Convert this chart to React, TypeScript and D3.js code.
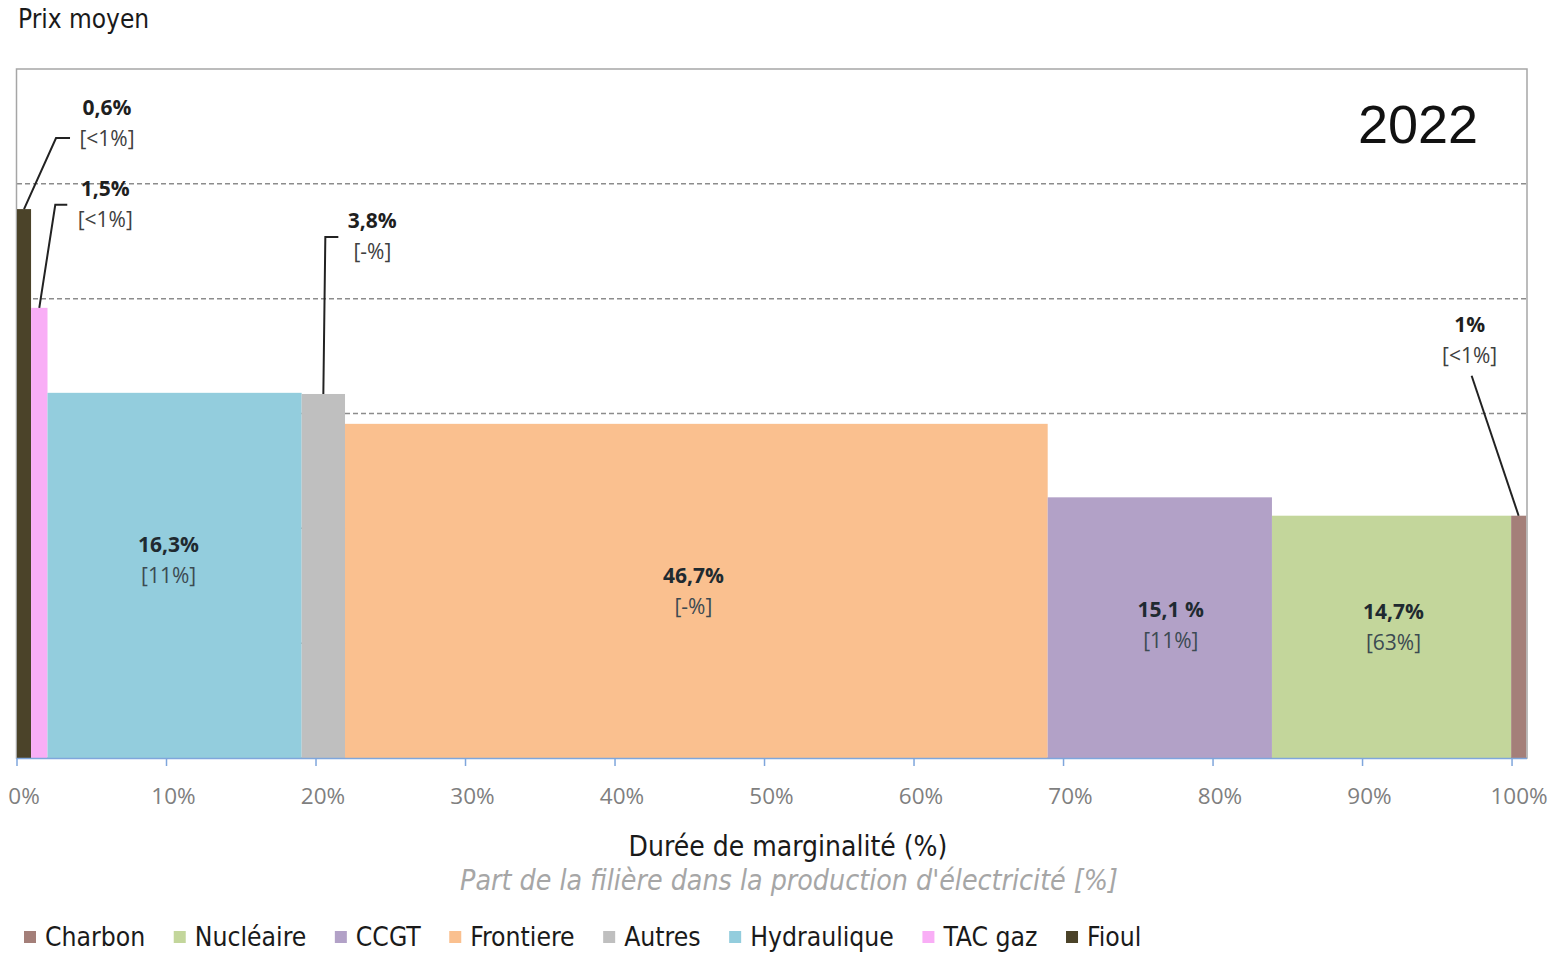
import React, { useEffect, useRef } from "react";
import * as d3 from "d3";

// ---------- data ----------
const categories = ["Fioul", "TAC gaz", "Hydraulique", "Autres", "Frontiere", "CCGT", "Nucléaire", "Charbon"];
// bar widths (share of time, % on x axis) as drawn
const durations = [0.94, 1.1, 17.0, 2.9, 47.0, 15.0, 16.0, 1.0];
// bar heights (average price, €/MWh)
const prices = [478, 392, 318, 317, 291, 227, 211, 211];
const durationLabels = ["0,6%", "1,5%", "16,3%", "3,8%", "46,7%", "15,1 %", "14,7%", "1%"];
const shareLabels = ["[<1%]", "[<1%]", "[11%]", "[-%]", "[-%]", "[11%]", "[63%]", "[<1%]"];
const colors = ["#4b4329", "#f9aef6", "#93cddd", "#bfbfbf", "#fac08f", "#b2a1c7", "#c3d69b", "#a47f79"];
const legendOrder = ["Charbon", "Nucléaire", "CCGT", "Frontiere", "Autres", "Hydraulique", "TAC gaz", "Fioul"];
const xTicks = [0, 10, 20, 30, 40, 50, 60, 70, 80, 90, 100];
const yGrid = [100, 200, 300, 400, 500];
const yearLabel = "2022";
const yTitle = "Prix moyen";
const xTitle = "Durée de marginalité (%)";
const xSubtitle = "Part de la filière dans la production d'électricité [%]";

// callouts for narrow bars: which bars get an outside label, and the leader path (pixel offsets from bar top)
const outsideLabels = ["Fioul", "TAC gaz", "Autres", "Charbon"];
const calloutLayout: Record<string, { path: [number, number][]; tx: number; ty: number }> = {
  Fioul: { path: [[0, 0], [32, -71], [46, -71]], tx: 83, ty: -94 },
  "TAC gaz": { path: [[0, 0], [16, -103], [28, -103]], tx: 66, ty: -112 },
  Autres: { path: [[0, 0], [2, -157], [15, -157]], tx: 49, ty: -166 },
  Charbon: { path: [[0, 0], [-47, -140]], tx: -49, ty: -184 },
};
// fine offsets of inside labels relative to bar centre (pixels)
const insideOffset: Record<string, [number, number]> = {
  Hydraulique: [-6, -15],
  Frontiere: [-3, 0],
  CCGT: [11, -3],
  Nucléaire: [2, -10],
};

const W = 1555;
const H = 953;
const M = { left: 17, right: 1527, top: 69, bottom: 758 };
const FONT = "'Open Sans', 'DejaVu Sans', sans-serif";
const NARROW = "'Liberation Sans Narrow', 'DejaVu Sans Condensed', 'Roboto', sans-serif";

export default function App() {
  const ref = useRef<SVGSVGElement | null>(null);

  useEffect(() => {
    const svg = d3.select(ref.current);
    svg.selectAll("*").remove();

    const x = d3.scaleLinear().domain([0, 101]).range([M.left, M.right]);
    const y = d3.scaleLinear().domain([0, 600]).range([M.bottom, M.top]);

    const starts: number[] = [];
    let acc = 0;
    durations.forEach((d) => {
      starts.push(acc);
      acc += d;
    });
    const bars = categories.map((c, i) => ({
      name: c,
      x0: starts[i],
      x1: starts[i] + durations[i],
      price: prices[i],
      color: colors[i],
      dl: durationLabels[i],
      sl: shareLabels[i],
    }));

    svg.append("rect").attr("width", W).attr("height", H).attr("fill", "#fff");

    // gridlines
    svg
      .append("g")
      .selectAll("line")
      .data(yGrid)
      .join("line")
      .attr("x1", M.left)
      .attr("x2", M.right)
      .attr("y1", (d) => y(d))
      .attr("y2", (d) => y(d))
      .attr("stroke", "#8c8c8c")
      .attr("stroke-width", 1.5)
      .attr("stroke-dasharray", "5,3");

    // plot border
    svg
      .append("rect")
      .attr("x", M.left - 0.5)
      .attr("y", M.top)
      .attr("width", M.right - M.left + 0.5)
      .attr("height", M.bottom - M.top)
      .attr("fill", "none")
      .attr("stroke", "#a6a6a6")
      .attr("stroke-width", 1.5);

    // bars
    svg
      .append("g")
      .selectAll("rect")
      .data(bars)
      .join("rect")
      .attr("x", (d) => x(d.x0))
      .attr("width", (d) => x(d.x1) - x(d.x0))
      .attr("y", (d) => y(d.price))
      .attr("height", (d) => y(0) - y(d.price))
      .attr("fill", (d) => d.color);

    // x axis
    const ax = svg.append("g");
    ax.append("line")
      .attr("x1", M.left)
      .attr("x2", M.right)
      .attr("y1", M.bottom + 0.5)
      .attr("y2", M.bottom + 0.5)
      .attr("stroke", "#7fa6dc")
      .attr("stroke-width", 1.5);
    ax.selectAll("line.tick")
      .data(xTicks)
      .join("line")
      .attr("class", "tick")
      .attr("x1", (d) => x(d))
      .attr("x2", (d) => x(d))
      .attr("y1", M.bottom)
      .attr("y2", M.bottom + 8)
      .attr("stroke", "#7fa6dc")
      .attr("stroke-width", 1.5);
    ax.selectAll("text")
      .data(xTicks)
      .join("text")
      .attr("x", (d) => x(d) + 7)
      .attr("y", 804)
      .attr("text-anchor", "middle")
      .attr("font-family", FONT)
      .attr("font-size", 22.5)
      .attr("fill", "#7f7f7f")
      .text((d) => `${d}%`);

    // inside labels
    const inside = bars.filter((b) => !outsideLabels.includes(b.name));
    const ig = svg.append("g").attr("font-family", FONT).attr("text-anchor", "middle");
    inside.forEach((b) => {
      const off = insideOffset[b.name] || [0, 0];
      const cx = (x(b.x0) + x(b.x1)) / 2 + off[0];
      const cy = (y(b.price) + y(0)) / 2 + off[1];
      ig.append("text")
        .attr("x", cx)
        .attr("y", cy - 8)
        .attr("font-size", 21)
        .attr("font-weight", "bold")
        .attr("fill", "#1f2a30")
        .text(b.dl);
      ig.append("text")
        .attr("x", cx)
        .attr("y", cy + 23)
        .attr("font-size", 21)
        .attr("fill", "#3c4a52")
        .text(b.sl);
    });

    // outside callouts
    const og = svg.append("g").attr("font-family", FONT).attr("text-anchor", "middle");
    bars
      .filter((b) => outsideLabels.includes(b.name))
      .forEach((b) => {
        const lay = calloutLayout[b.name];
        const bx = (x(b.x0) + x(b.x1)) / 2;
        const by = y(b.price);
        og.append("path")
          .attr("d", d3.line()(lay.path.map(([dx, dy]) => [bx + dx, by + dy] as [number, number])))
          .attr("fill", "none")
          .attr("stroke", "#222")
          .attr("stroke-width", 2);
        og.append("text")
          .attr("x", bx + lay.tx)
          .attr("y", by + lay.ty)
          .attr("font-size", 21)
          .attr("font-weight", "bold")
          .attr("fill", "#1f1f1f")
          .text(b.dl);
        og.append("text")
          .attr("x", bx + lay.tx)
          .attr("y", by + lay.ty + 31)
          .attr("font-size", 21)
          .attr("fill", "#404040")
          .text(b.sl);
      });

    // year
    svg.append("text")
      .attr("x", 1418)
      .attr("y", 143)
      .attr("text-anchor", "middle")
      .attr("font-family", "'Liberation Sans', Arial, sans-serif")
      .attr("font-size", 54)
      .attr("fill", "#111")
      .text(yearLabel);

    // y title
    svg.append("text")
      .attr("x", 18)
      .attr("y", 28)
      .attr("font-family", NARROW)
      .attr("font-size", 26)
      .attr("fill", "#1a1a1a")
      .text(yTitle);

    // x titles
    svg.append("text")
      .attr("x", 788)
      .attr("y", 856)
      .attr("text-anchor", "middle")
      .attr("font-family", NARROW)
      .attr("font-size", 28)
      .attr("fill", "#1a1a1a")
      .text(xTitle);
    svg.append("text")
      .attr("x", 789)
      .attr("y", 890)
      .attr("text-anchor", "middle")
      .attr("font-family", NARROW)
      .attr("font-style", "italic")
      .attr("font-size", 28.3)
      .attr("fill", "#a6a6a6")
      .text(xSubtitle);

    // legend
    const lg = svg.append("g");
    let lx = 24;
    legendOrder.forEach((name) => {
      const i = categories.indexOf(name);
      lg.append("rect")
        .attr("x", lx)
        .attr("y", 931)
        .attr("width", 12)
        .attr("height", 12)
        .attr("fill", colors[i]);
      const t = lg
        .append("text")
        .attr("x", lx + 21)
        .attr("y", 946)
        .attr("font-family", NARROW)
        .attr("font-size", 26.3)
        .attr("fill", "#1a1a1a")
        .text(name);
      const w = (t.node() as SVGTextElement).getComputedTextLength();
      lx += 21 + w + 28.5;
    });
  }, []);

  return (
    <svg
      ref={ref}
      width={W}
      height={H}
      style={{ position: "absolute", left: 0, top: 0, display: "block" }}
    />
  );
}
